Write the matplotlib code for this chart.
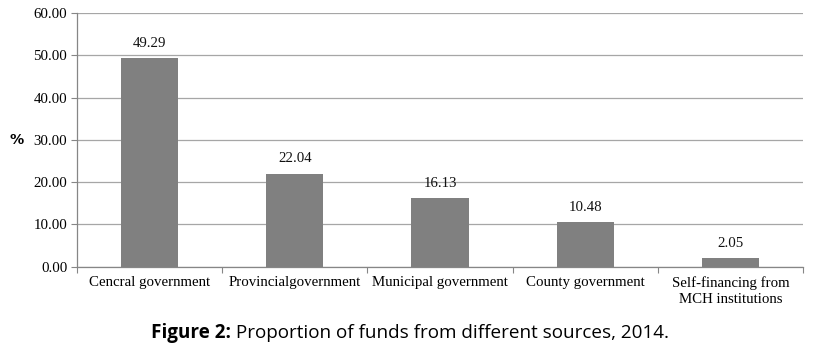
import numpy as np
import matplotlib
matplotlib.use('Agg')
from matplotlib import pyplot as plt

categories = ['Cencral government', 'Provincialgovernment', 'Municipal government',
              'County government', 'Self-financing from\nMCH institutions']
values = [49.29, 22.04, 16.13, 10.48, 2.05]
yticks = [0, 10, 20, 30, 40, 50, 60]

plt.rcParams['font.family'] = ['Liberation Serif', 'DejaVu Serif']
fs = 10.7

fig = plt.figure(figsize=(8.26, 3.45), dpi=100)
ax = fig.add_axes([77/826, 1 - 266.7/345, (803-77)/826, (266.7-13)/345])

x = np.arange(len(categories))
ax.bar(x, values, width=0.395, color='#808080', zorder=3)
for xi, v in zip(x, values):
    ax.text(xi, v + 1.9, '%.2f' % v, ha='center', va='bottom', fontsize=fs, color='#111111')

ax.set_xlim(-0.5, len(categories) - 0.5)
ax.set_ylim(0, 60)
ax.set_yticks(yticks)
ax.set_yticklabels(['%.2f' % t for t in yticks], fontsize=fs)
ax.yaxis.grid(True, color='#a6a6a6', linewidth=0.9, zorder=0)

# category labels sit between the boundary ticks
ax.set_xticks(np.arange(-0.5, len(categories)))
ax.set_xticklabels([])
ax.set_xticks(x, minor=True)
ax.set_xticklabels(categories, minor=True, fontsize=fs, va='top', linespacing=1.25)
ax.tick_params(axis='x', which='minor', length=0, pad=7)
ax.tick_params(axis='x', which='major', length=4, color='#868686', direction='out')
ax.tick_params(axis='y', length=4, color='#868686', direction='out', pad=3)

for s in ['top', 'right']:
    ax.spines[s].set_visible(False)
for s in ['left', 'bottom']:
    ax.spines[s].set_color('#868686')
    ax.spines[s].set_linewidth(0.9)

fig.text(17/826, 1 - 140/345, '%', fontsize=fs - 0.5, fontweight='bold', ha='center', va='center',
         family=['DejaVu Sans'])

# caption: bold "Figure 2:" followed by regular text, centred
t1 = fig.text(0, 0, 'Figure 2:', fontsize=13.6, fontweight='bold', family=['Open Sans'])
t2 = fig.text(0, 0, ' Proportion of funds from different sources, 2014.', fontsize=13.6, family=['Open Sans'])
fig.canvas.draw()
r = fig.canvas.get_renderer()
w1 = t1.get_window_extent(r).width
w2 = t2.get_window_extent(r).width
x0 = 410 - (w1 + w2) / 2
t1.set_position((x0 / 826, 1 - 338/345))
t2.set_position(((x0 + w1) / 826, 1 - 338/345))

fig.savefig('out.png', dpi=100)
